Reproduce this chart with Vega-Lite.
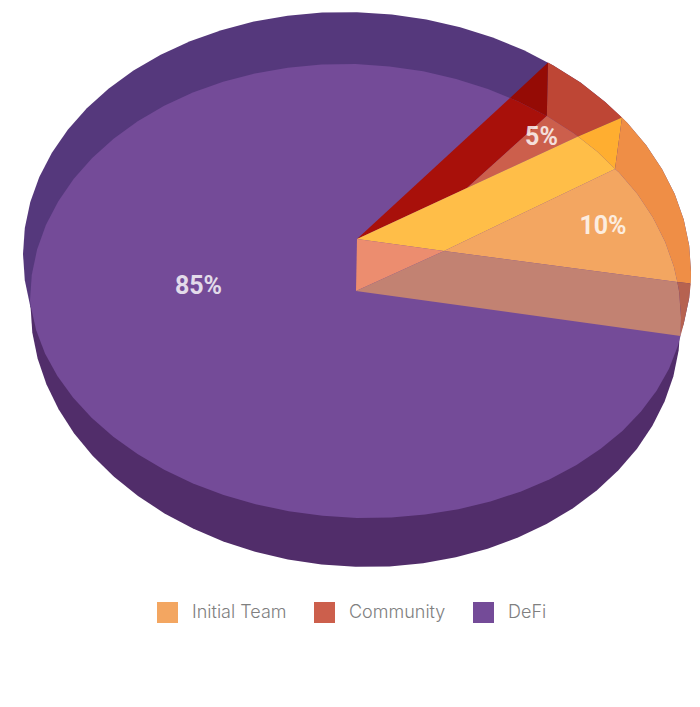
{"$schema":"https://vega.github.io/schema/vega-lite/v6.json","width":700,"height":707,"padding":0,"autosize":{"type":"fit","contains":"padding"},"background":"white","view":{"stroke":null},
"datasets":{
"faces":[
{"r":"back rim","i":0,"x":691,"y":272},{"r":"back rim","i":1,"x":689.2,"y":298.1},{"r":"back rim","i":2,"x":683.7,"y":323.9},{"r":"back rim","i":3,"x":674.7,"y":349},{"r":"back rim","i":4,"x":662.1,"y":373.2},{"r":"back rim","i":5,"x":646.2,"y":396.2},{"r":"back rim","i":6,"x":627.2,"y":417.7},{"r":"back rim","i":7,"x":605.2,"y":437.5},{"r":"back rim","i":8,"x":580.5,"y":455.4},{"r":"back rim","i":9,"x":553.3,"y":471.2},{"r":"back rim","i":10,"x":524,"y":484.7},{"r":"back rim","i":11,"x":492.8,"y":495.8},{"r":"back rim","i":12,"x":460.2,"y":504.4},{"r":"back rim","i":13,"x":426.4,"y":510.2},{"r":"back rim","i":14,"x":391.9,"y":513.4},{"r":"back rim","i":15,"x":357,"y":513.8},{"r":"back rim","i":16,"x":322.1,"y":511.5},{"r":"back rim","i":17,"x":287.6,"y":506.5},{"r":"back rim","i":18,"x":253.8,"y":498.8},{"r":"back rim","i":19,"x":221.2,"y":488.5},{"r":"back rim","i":20,"x":190,"y":475.7},{"r":"back rim","i":21,"x":160.7,"y":460.6},{"r":"back rim","i":22,"x":133.5,"y":443.4},{"r":"back rim","i":23,"x":108.8,"y":424.1},{"r":"back rim","i":24,"x":86.8,"y":403.2},{"r":"back rim","i":25,"x":67.8,"y":380.7},{"r":"back rim","i":26,"x":51.9,"y":356.8},{"r":"back rim","i":27,"x":39.3,"y":332},{"r":"back rim","i":28,"x":30.3,"y":306.4},{"r":"back rim","i":29,"x":24.8,"y":280.3},{"r":"back rim","i":30,"x":23,"y":254},{"r":"back rim","i":31,"x":24.8,"y":227.9},{"r":"back rim","i":32,"x":30.3,"y":202.1},{"r":"back rim","i":33,"x":39.3,"y":177},{"r":"back rim","i":34,"x":51.9,"y":152.8},{"r":"back rim","i":35,"x":67.8,"y":129.8},{"r":"back rim","i":36,"x":86.8,"y":108.3},{"r":"back rim","i":37,"x":108.8,"y":88.5},{"r":"back rim","i":38,"x":133.5,"y":70.6},{"r":"back rim","i":39,"x":160.7,"y":54.8},{"r":"back rim","i":40,"x":190,"y":41.3},{"r":"back rim","i":41,"x":221.2,"y":30.2},{"r":"back rim","i":42,"x":253.8,"y":21.6},{"r":"back rim","i":43,"x":287.6,"y":15.8},{"r":"back rim","i":44,"x":322.1,"y":12.6},{"r":"back rim","i":45,"x":357,"y":12.2},{"r":"back rim","i":46,"x":391.9,"y":14.5},{"r":"back rim","i":47,"x":426.4,"y":19.5},{"r":"back rim","i":48,"x":460.2,"y":27.2},{"r":"back rim","i":49,"x":492.8,"y":37.5},{"r":"back rim","i":50,"x":524,"y":50.3},{"r":"back rim","i":51,"x":553.3,"y":65.4},{"r":"back rim","i":52,"x":580.5,"y":82.6},{"r":"back rim","i":53,"x":605.2,"y":101.9},{"r":"back rim","i":54,"x":627.2,"y":122.8},{"r":"back rim","i":55,"x":646.2,"y":145.3},{"r":"back rim","i":56,"x":662.1,"y":169.2},{"r":"back rim","i":57,"x":674.7,"y":194},{"r":"back rim","i":58,"x":683.7,"y":219.6},{"r":"back rim","i":59,"x":689.2,"y":245.7},
{"r":"front rim","i":0,"x":680.5,"y":324},{"r":"front rim","i":1,"x":678.7,"y":350.3},{"r":"front rim","i":2,"x":673.4,"y":376.2},{"r":"front rim","i":3,"x":664.6,"y":401.4},{"r":"front rim","i":4,"x":652.4,"y":425.7},{"r":"front rim","i":5,"x":637,"y":448.7},{"r":"front rim","i":6,"x":618.4,"y":470.3},{"r":"front rim","i":7,"x":597,"y":490.2},{"r":"front rim","i":8,"x":573,"y":508.2},{"r":"front rim","i":9,"x":546.5,"y":524},{"r":"front rim","i":10,"x":518,"y":537.6},{"r":"front rim","i":11,"x":487.7,"y":548.7},{"r":"front rim","i":12,"x":455.9,"y":557.3},{"r":"front rim","i":13,"x":423.1,"y":563.2},{"r":"front rim","i":14,"x":389.5,"y":566.4},{"r":"front rim","i":15,"x":355.5,"y":566.8},{"r":"front rim","i":16,"x":321.5,"y":564.5},{"r":"front rim","i":17,"x":287.9,"y":559.5},{"r":"front rim","i":18,"x":255.1,"y":551.7},{"r":"front rim","i":19,"x":223.3,"y":541.4},{"r":"front rim","i":20,"x":193,"y":528.6},{"r":"front rim","i":21,"x":164.5,"y":513.4},{"r":"front rim","i":22,"x":138,"y":496.1},{"r":"front rim","i":23,"x":114,"y":476.8},{"r":"front rim","i":24,"x":92.6,"y":455.7},{"r":"front rim","i":25,"x":74,"y":433.2},{"r":"front rim","i":26,"x":58.6,"y":409.2},{"r":"front rim","i":27,"x":46.4,"y":384.2},{"r":"front rim","i":28,"x":37.6,"y":358.5},{"r":"front rim","i":29,"x":32.3,"y":332.4},{"r":"front rim","i":30,"x":30.5,"y":306},
{"r":"DeFi face","i":0,"x":680.5,"y":336},{"r":"DeFi face","i":1,"x":677.8,"y":346.1},{"r":"DeFi face","i":2,"x":669,"y":368.8},{"r":"DeFi face","i":3,"x":656.6,"y":390.7},{"r":"DeFi face","i":4,"x":641,"y":411.4},{"r":"DeFi face","i":5,"x":622.4,"y":430.9},{"r":"DeFi face","i":6,"x":600.7,"y":448.8},{"r":"DeFi face","i":7,"x":576.5,"y":465},{"r":"DeFi face","i":8,"x":549.8,"y":479.3},{"r":"DeFi face","i":9,"x":521,"y":491.5},{"r":"DeFi face","i":10,"x":490.4,"y":501.5},{"r":"DeFi face","i":11,"x":458.4,"y":509.3},{"r":"DeFi face","i":12,"x":425.2,"y":514.6},{"r":"DeFi face","i":13,"x":391.3,"y":517.5},{"r":"DeFi face","i":14,"x":357,"y":517.9},{"r":"DeFi face","i":15,"x":322.7,"y":515.8},{"r":"DeFi face","i":16,"x":288.8,"y":511.2},{"r":"DeFi face","i":17,"x":255.6,"y":504.2},{"r":"DeFi face","i":18,"x":223.6,"y":494.9},{"r":"DeFi face","i":19,"x":193,"y":483.4},{"r":"DeFi face","i":20,"x":164.2,"y":469.7},{"r":"DeFi face","i":21,"x":137.5,"y":454.1},{"r":"DeFi face","i":22,"x":113.3,"y":436.7},{"r":"DeFi face","i":23,"x":91.6,"y":417.8},{"r":"DeFi face","i":24,"x":73,"y":397.4},{"r":"DeFi face","i":25,"x":57.4,"y":375.9},{"r":"DeFi face","i":26,"x":45,"y":353.4},{"r":"DeFi face","i":27,"x":36.2,"y":330.2},{"r":"DeFi face","i":28,"x":30.8,"y":306.6},{"r":"DeFi face","i":29,"x":30,"y":300.2},{"r":"DeFi face","i":30,"x":31.8,"y":274.7},{"r":"DeFi face","i":31,"x":37.1,"y":249.5},{"r":"DeFi face","i":32,"x":45.9,"y":225},{"r":"DeFi face","i":33,"x":58.2,"y":201.4},{"r":"DeFi face","i":34,"x":73.6,"y":179},{"r":"DeFi face","i":35,"x":92.2,"y":158},{"r":"DeFi face","i":36,"x":113.6,"y":138.7},{"r":"DeFi face","i":37,"x":137.7,"y":121.2},{"r":"DeFi face","i":38,"x":164.2,"y":105.8},{"r":"DeFi face","i":39,"x":192.8,"y":92.6},{"r":"DeFi face","i":40,"x":223.1,"y":81.8},{"r":"DeFi face","i":41,"x":254.9,"y":73.4},{"r":"DeFi face","i":42,"x":287.8,"y":67.7},{"r":"DeFi face","i":43,"x":321.5,"y":64.6},{"r":"DeFi face","i":44,"x":355.5,"y":64.1},{"r":"DeFi face","i":45,"x":389.5,"y":66.4},{"r":"DeFi face","i":46,"x":423.2,"y":71.3},{"r":"DeFi face","i":47,"x":456.1,"y":78.9},{"r":"DeFi face","i":48,"x":487.9,"y":88.9},{"r":"DeFi face","i":49,"x":518.3,"y":101.4},{"r":"DeFi face","i":50,"x":546.8,"y":116.1},{"r":"DeFi face","i":51,"x":573.3,"y":132.9},{"r":"DeFi face","i":52,"x":597.4,"y":151.7},{"r":"DeFi face","i":53,"x":618.8,"y":172.2},{"r":"DeFi face","i":54,"x":637.4,"y":194.1},{"r":"DeFi face","i":55,"x":652.9,"y":217.4},{"r":"DeFi face","i":56,"x":665.1,"y":241.7},{"r":"DeFi face","i":57,"x":673.9,"y":266.7},{"r":"DeFi face","i":58,"x":679.2,"y":292.1},{"r":"DeFi face","i":59,"x":681,"y":317.8},
{"r":"Community rim","i":0,"x":548,"y":62.4},{"r":"Community rim","i":1,"x":553.3,"y":65.4},{"r":"Community rim","i":2,"x":580.5,"y":82.6},{"r":"Community rim","i":3,"x":605.2,"y":101.9},{"r":"Community rim","i":4,"x":622,"y":117.4},{"r":"Community rim","i":5,"x":578,"y":136.6},{"r":"Community rim","i":6,"x":573.3,"y":132.9},{"r":"Community rim","i":7,"x":546.8,"y":116.1},
{"r":"Community wall back","i":0,"x":548,"y":62.4},{"r":"Community wall back","i":1,"x":546.8,"y":116.1},{"r":"Community wall back","i":2,"x":518.3,"y":101.4},{"r":"Community wall back","i":3,"x":510,"y":98},
{"r":"Community wall","i":0,"x":510,"y":98},{"r":"Community wall","i":1,"x":518.3,"y":101.4},{"r":"Community wall","i":2,"x":546.8,"y":116.1},{"r":"Community wall","i":3,"x":467,"y":188},{"r":"Community wall","i":4,"x":357,"y":239},
{"r":"Community face","i":0,"x":467,"y":188},{"r":"Community face","i":1,"x":546.8,"y":116.1},{"r":"Community face","i":2,"x":573.3,"y":132.9},{"r":"Community face","i":3,"x":578,"y":136.6},
{"r":"Team wall back","i":0,"x":578,"y":136.6},{"r":"Team wall back","i":1,"x":622,"y":117.4},{"r":"Team wall back","i":2,"x":615,"y":169},{"r":"Team wall back","i":3,"x":597.4,"y":151.7},
{"r":"Team wall","i":0,"x":357,"y":239},{"r":"Team wall","i":1,"x":578,"y":136.6},{"r":"Team wall","i":2,"x":597.4,"y":151.7},{"r":"Team wall","i":3,"x":615,"y":169},{"r":"Team wall","i":4,"x":444,"y":251},
{"r":"Team rim","i":0,"x":622,"y":117.4},{"r":"Team rim","i":1,"x":627.2,"y":122.8},{"r":"Team rim","i":2,"x":646.2,"y":145.3},{"r":"Team rim","i":3,"x":662.1,"y":169.2},{"r":"Team rim","i":4,"x":674.7,"y":194},{"r":"Team rim","i":5,"x":683.7,"y":219.6},{"r":"Team rim","i":6,"x":689.2,"y":245.7},{"r":"Team rim","i":7,"x":691,"y":272},{"r":"Team rim","i":8,"x":690.8,"y":283.5},{"r":"Team rim","i":9,"x":677.3,"y":282},{"r":"Team rim","i":10,"x":673.9,"y":266.7},{"r":"Team rim","i":11,"x":665.1,"y":241.7},{"r":"Team rim","i":12,"x":652.9,"y":217.4},{"r":"Team rim","i":13,"x":637.4,"y":194.1},{"r":"Team rim","i":14,"x":618.8,"y":172.2},{"r":"Team rim","i":15,"x":615,"y":169},
{"r":"Team face","i":0,"x":444,"y":251},{"r":"Team face","i":1,"x":615,"y":169},{"r":"Team face","i":2,"x":618.8,"y":172.2},{"r":"Team face","i":3,"x":637.4,"y":194.1},{"r":"Team face","i":4,"x":652.9,"y":217.4},{"r":"Team face","i":5,"x":665.1,"y":241.7},{"r":"Team face","i":6,"x":673.9,"y":266.7},{"r":"Team face","i":7,"x":677.3,"y":282},
{"r":"Cut near","i":0,"x":357,"y":239},{"r":"Cut near","i":1,"x":444,"y":251},{"r":"Cut near","i":2,"x":356,"y":291},
{"r":"Cut far","i":0,"x":444,"y":251},{"r":"Cut far","i":1,"x":677.3,"y":282},{"r":"Cut far","i":2,"x":679.2,"y":292.1},{"r":"Cut far","i":3,"x":681,"y":317.8},{"r":"Cut far","i":4,"x":680.5,"y":336},{"r":"Cut far","i":5,"x":356,"y":291},
{"r":"Cut rim","i":0,"x":677.3,"y":282},{"r":"Cut rim","i":1,"x":690.8,"y":283.5},{"r":"Cut rim","i":2,"x":689.2,"y":298.1},{"r":"Cut rim","i":3,"x":683.7,"y":323.9},{"r":"Cut rim","i":4,"x":680.5,"y":336},{"r":"Cut rim","i":5,"x":681,"y":317.8},{"r":"Cut rim","i":6,"x":679.2,"y":292.1}
],
"shares":[
{"series":"Initial Team","label":"10%","x":603,"y":225.5},
{"series":"Community","label":"5%","x":541.5,"y":136.5},
{"series":"DeFi","label":"85%","x":198.5,"y":285.5}
]},
"encoding":{
"x":{"field":"x","type":"quantitative","axis":null,"scale":{"domain":[0,700],"nice":false,"zero":false}},
"y":{"field":"y","type":"quantitative","axis":null,"scale":{"domain":[707,0],"nice":false,"zero":false}}
},
"layer":[
{"data":{"name":"faces"},"mark":{"type":"line","filled":true,"interpolate":"linear-closed"},
"encoding":{"order":{"field":"i","type":"quantitative"},
"color":{"field":"r","type":"nominal","legend":null,"sort":null,"scale":{
"domain":["back rim","front rim","DeFi face","Community rim","Community wall back","Community wall","Community face","Team wall back","Team wall","Team rim","Team face","Cut near","Cut far","Cut rim"],
"range":["#55387C","#512D6A","#744B98","#BE4635","#950B05","#A8100A","#CC5F4C","#FFAE30","#FFBE48","#EF8E46","#F3A661","#EC8D6F","#C28272","#B66250"]}}}},
{"data":{"name":"shares"},"mark":{"type":"point","filled":true,"size":0,"shape":"square"},
"encoding":{"color":{"field":"series","type":"nominal","sort":null,"scale":{"domain":["Initial Team","Community","DeFi"],"range":["#F3A661","#CC5F4C","#744B98"]},
"legend":{"title":null,"orient":"none","legendX":157,"legendY":602,"direction":"horizontal","columns":3,"symbolType":"square","symbolSize":441,"symbolOpacity":1,"symbolStrokeWidth":0,"labelFont":"Inter","labelFontWeight":300,"labelFontSize":18,"labelColor":"#808080","labelOffset":14,"columnPadding":27,"padding":0}}}},
{"data":{"name":"shares"},"mark":{"type":"text","font":"Roboto","fontWeight":"bold","fontSize":25,"color":"white","opacity":0.8,"align":"center","baseline":"middle"},
"encoding":{"text":{"field":"label","type":"nominal"}}}
],
"resolve":{"scale":{"color":"independent"}}}
